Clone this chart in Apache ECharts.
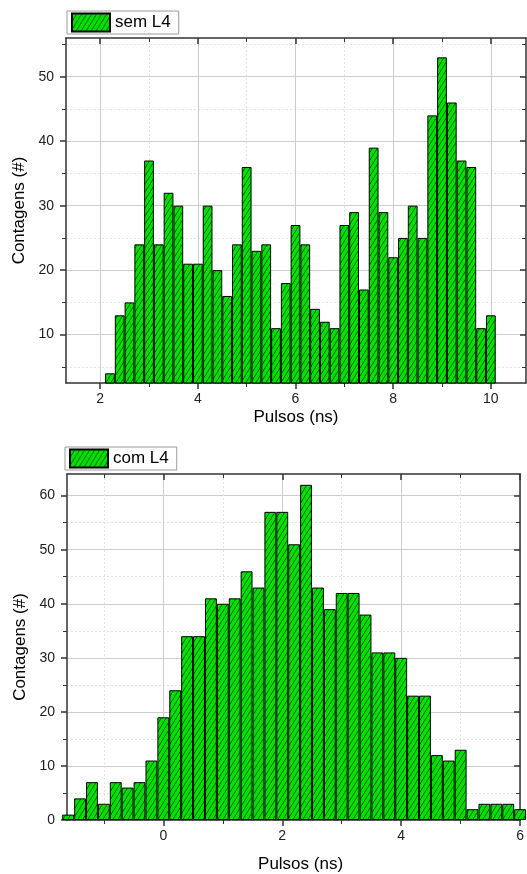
<!DOCTYPE html>
<html><head><meta charset="utf-8">
<script src="https://cdn.jsdelivr.net/npm/echarts@6/dist/echarts.min.js"></script>
<style>html,body{margin:0;padding:0;background:#fff}#c{width:527px;height:874px}</style>
</head><body><div id="c"></div>
<script>
// ---- data ----
const semL4Bins = [2.2,2.4,2.6,2.8,3.0,3.2,3.4,3.6,3.8,4.0,4.2,4.4,4.6,4.8,5.0,5.2,5.4,5.6,5.8,6.0,
                   6.2,6.4,6.6,6.8,7.0,7.2,7.4,7.6,7.8,8.0,8.2,8.4,8.6,8.8,9.0,9.2,9.4,9.6,9.8,10.0];
const semL4Counts = [4,13,15,24,37,24,32,30,21,21,30,20,16,24,36,23,24,11,18,27,
                     24,14,12,11,27,29,17,39,29,22,25,30,25,44,53,46,37,36,11,13];
const comL4Bins = [-1.6,-1.4,-1.2,-1.0,-0.8,-0.6,-0.4,-0.2,0.0,0.2,0.4,0.6,0.8,1.0,1.2,1.4,1.6,1.8,2.0,2.2,
                   2.4,2.6,2.8,3.0,3.2,3.4,3.6,3.8,4.0,4.2,4.4,4.6,4.8,5.0,5.2,5.4,5.6,5.8,6.0];
const comL4Counts = [1,4,7,3,7,6,7,11,19,24,34,34,41,40,41,46,43,57,57,51,
                     62,43,39,42,42,38,31,31,30,23,23,12,11,13,2,3,3,3,2];
const topXTicks = [2,4,6,8,10];
const topYTicks = [10,20,30,40,50];
const botXTicks = [0,2,4,6];
const botYTicks = [0,10,20,30,40,50,60];
const seriesNames = ['sem L4','com L4'];
const xTitle = 'Pulsos (ns)';
const yTitle = 'Contagens (#)';

// ---- hatch pattern ----
function hatch(){
  const w = 5, h = 8;
  const c = document.createElement('canvas'); c.width = w; c.height = h;
  const g = c.getContext('2d');
  g.fillStyle = '#00e400'; g.fillRect(0,0,w,h);
  g.strokeStyle = '#0a5c0a'; g.lineWidth = 1;
  for (const off of [-w, 0, w]) {
    g.beginPath(); g.moveTo(off, h); g.lineTo(off + w, 0); g.stroke();
  }
  return c;
}
const fill = {image: hatch(), repeat: 'repeat'};
const FONT = 'Liberation Sans, Arial, sans-serif';
const axisColor = '#333';

function mainX(grid, min, max, ticks, gap, namePad){
  return {gridIndex:grid, type:'value', min:min, max:max, position:'bottom',
    name:xTitle, nameLocation:'middle', nameGap:gap,
    nameTextStyle:{fontSize:17, color:'#000', fontFamily:FONT, padding:namePad},
    axisLine:{show:true, onZero:false, lineStyle:{color:axisColor, width:1.5}},
    axisTick:{show:true, inside:false, length:6, customValues:ticks, lineStyle:{color:axisColor, width:1.5}},
    minorTick:{show:true, splitNumber:2, length:4, lineStyle:{color:axisColor, width:1}},
    axisLabel:{show:true, customValues:ticks, fontSize:14, color:'#222', margin:9, fontFamily:FONT},
    splitLine:{show:true, lineStyle:{color:'#cdcdcd', width:1}},
    minorSplitLine:{show:true, lineStyle:{color:'#e3e3e3', width:1, type:[2,2]}}
  };
}
function frameX(grid, min, max, ticks){
  return {gridIndex:grid, type:'value', min:min, max:max, position:'top',
    axisLine:{show:true, onZero:false, lineStyle:{color:axisColor, width:1.5}},
    axisTick:{show:true, inside:true, length:6, customValues:ticks, lineStyle:{color:axisColor, width:1.5}},
    minorTick:{show:true, splitNumber:2, length:4, lineStyle:{color:axisColor, width:1}},
    axisLabel:{show:false}, splitLine:{show:false}
  };
}
function mainY(grid, min, max, ticks){
  return {gridIndex:grid, type:'value', min:min, max:max, position:'left',
    name:yTitle, nameLocation:'middle', nameGap:37,
    nameTextStyle:{fontSize:17, color:'#000', fontFamily:FONT},
    axisLine:{show:true, onZero:false, lineStyle:{color:axisColor, width:1.5}},
    axisTick:{show:true, inside:false, length:6, customValues:ticks, lineStyle:{color:axisColor, width:1.5}},
    minorTick:{show:true, splitNumber:2, length:4, lineStyle:{color:axisColor, width:1}},
    axisLabel:{show:true, customValues:ticks, fontSize:14, color:'#222', margin:12, fontFamily:FONT},
    splitLine:{show:true, lineStyle:{color:'#cdcdcd', width:1}},
    minorSplitLine:{show:true, lineStyle:{color:'#e3e3e3', width:1, type:[2,2]}}
  };
}
function frameY(grid, min, max, ticks){
  return {gridIndex:grid, type:'value', min:min, max:max, position:'right',
    axisLine:{show:true, onZero:false, lineStyle:{color:axisColor, width:1.5}},
    axisTick:{show:true, inside:true, length:6, customValues:ticks, lineStyle:{color:axisColor, width:1.5}},
    minorTick:{show:true, splitNumber:2, length:4, lineStyle:{color:axisColor, width:1}},
    axisLabel:{show:false}, splitLine:{show:false}
  };
}
function legendAt(name, left, top){
  return {data:[name], left:left, top:top, icon:'rect', itemWidth:38, itemHeight:18, itemGap:0,
    padding:[1.5, 8, 1.5, 4], backgroundColor:'#fff', borderColor:'#9a9a9a', borderWidth:1, borderRadius:0,
    textStyle:{fontSize:17, color:'#000', fontFamily:FONT}, selectedMode:false};
}

const chart = echarts.init(document.getElementById('c'), null, {renderer:'canvas'});
chart.setOption({
  animation:false,
  backgroundColor:'#fff',
  grid:[
    {left:66, top:38, right:1, height:345},
    {left:67, top:474, right:1, height:348}
  ],
  legend:[legendAt(seriesNames[0], 67, 11), legendAt(seriesNames[1], 65, 447)],
  xAxis:[
    mainX(0, 1.3, 10.72, topXTicks, 26, [0,0,0,0]),
    frameX(0, 1.3, 10.72, topXTicks),
    mainX(1, -1.62, 6.0, botXTicks, 36, [0,0,0,14]),
    frameX(1, -1.62, 6.0, botXTicks)
  ],
  yAxis:[
    mainY(0, 2.5, 56, topYTicks),
    frameY(0, 2.5, 56, topYTicks),
    mainY(1, 0, 64, botYTicks),
    frameY(1, 0, 64, botYTicks)
  ],
  series:[
    {type:'bar', name:seriesNames[0], xAxisIndex:0, yAxisIndex:0, barWidth:'100%', clip:true,
     data:semL4Bins.map((x,i)=>[x, semL4Counts[i]]),
     itemStyle:{color:fill, borderColor:'#000', borderWidth:1}},
    {type:'bar', name:seriesNames[1], xAxisIndex:2, yAxisIndex:2, barWidth:'100%', clip:true,
     data:comL4Bins.map((x,i)=>[x, comL4Counts[i]]),
     itemStyle:{color:fill, borderColor:'#000', borderWidth:1}}
  ]
});
</script></body></html>
